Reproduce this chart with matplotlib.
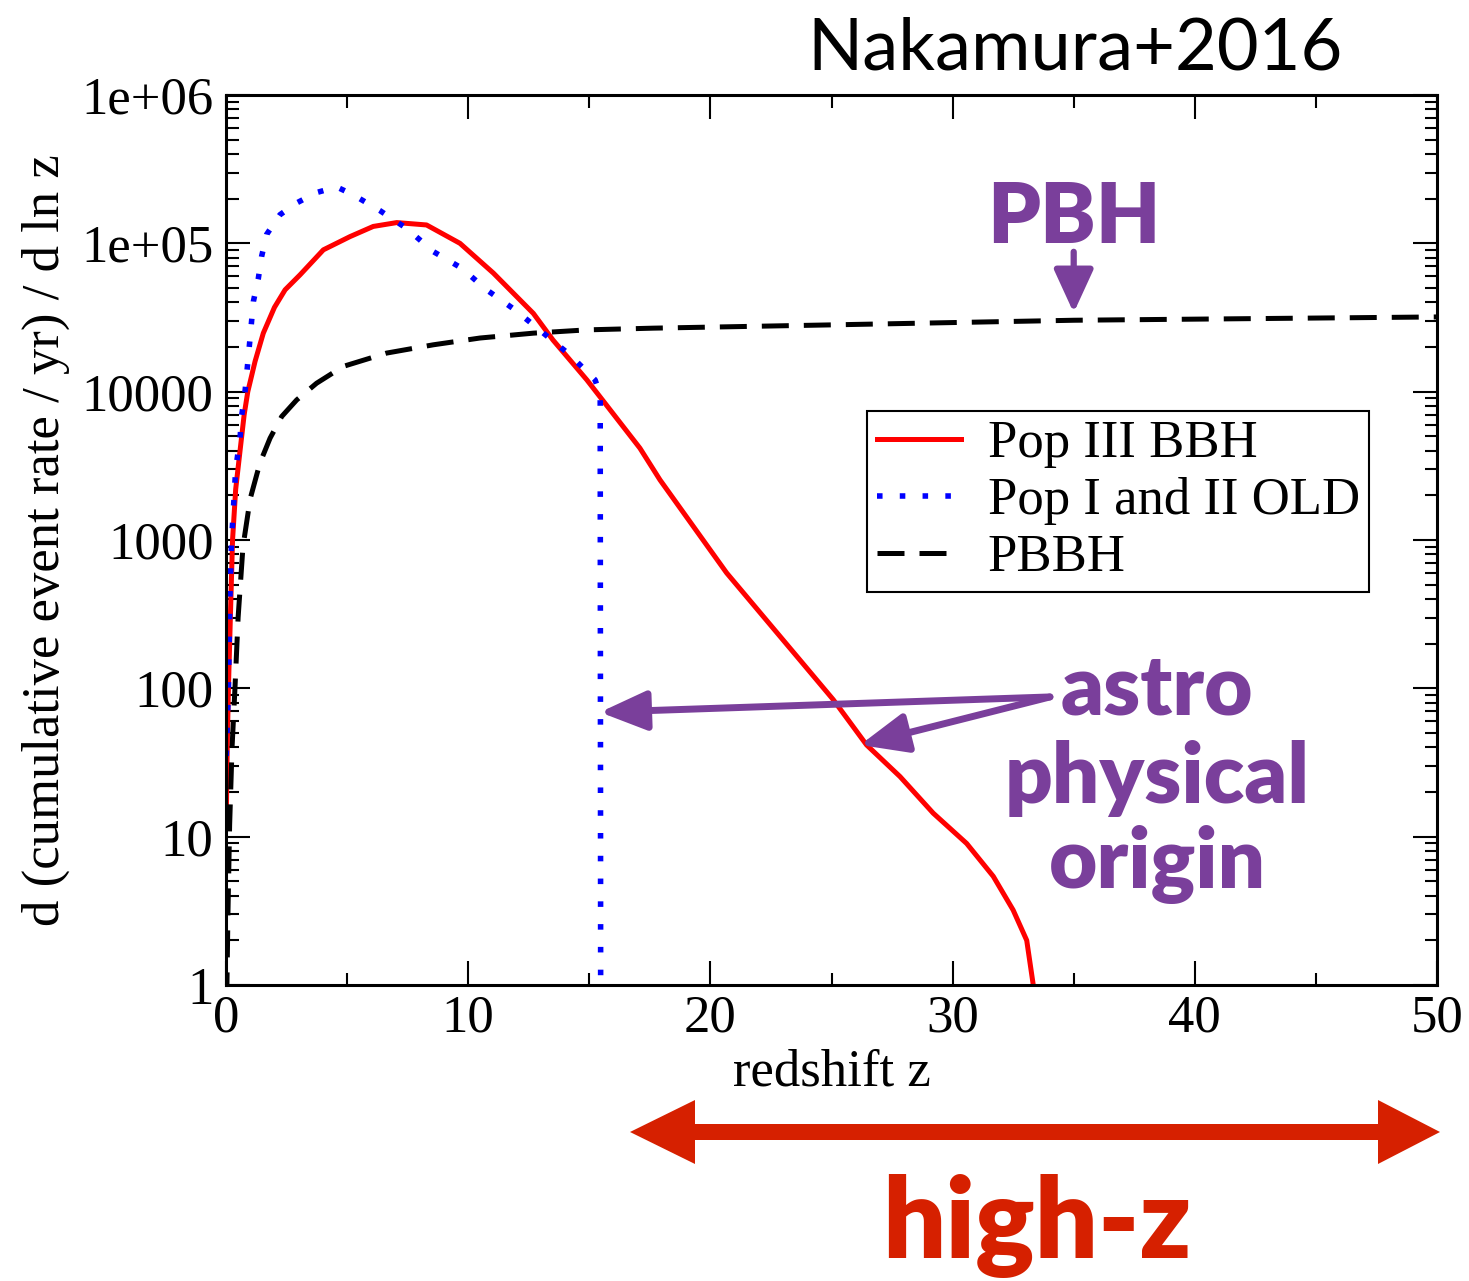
import numpy as np
import matplotlib.pyplot as plt
from matplotlib.patches import Polygon
from matplotlib.ticker import FixedLocator, LogLocator, FuncFormatter, NullFormatter

# Pop III BBH (solid red)
z_pop3 = [0.01, 0.05, 0.1, 0.18, 0.27, 0.4, 0.58, 0.75, 0.9, 1.2, 1.54, 2.0,
          2.44, 3.06, 4.02, 5.12, 6.08, 7.05, 8.28, 9.66, 11.04, 12.69, 13.5,
          14.9, 17.09, 17.92, 20.67, 23.7, 25.07, 26.45, 27.83, 29.2, 30.58,
          31.68, 32.5, 33.06, 33.33, 33.4]
r_pop3 = [12, 40, 100, 300, 1000, 2200, 4000, 7000, 10000, 16000, 24800,
          37000, 48600, 61400, 90400, 111000, 130000, 138000, 133000, 100000,
          63000, 33700, 22300, 12000, 4160, 2540, 600, 155, 84, 41.5, 25.4,
          14.4, 9.0, 5.4, 3.2, 2.0, 1.0, 0.5]

# Pop I and II OLD (dotted blue)
z_old = [0.01, 0.1, 0.16, 0.23, 0.4, 0.58, 0.65, 0.78, 0.96, 1.13, 1.33, 1.47,
         1.68, 2.23, 2.94, 3.74, 4.57, 5.26, 6.36, 7.46, 8.56, 9.73, 10.76,
         11.93, 13.03, 14.2, 15.24, 15.45, 15.47]
r_old = [35, 100, 400, 1000, 3000, 4860, 6950, 9800, 20000, 40500, 57300,
         81500, 115000, 156000, 188000, 220000, 240000, 212000, 166000,
         126000, 88000, 68000, 48600, 35600, 25400, 17700, 12000, 9500, 0.5]

# PBBH (dashed black)
z_pbbh = [0.03, 0.08, 0.15, 0.25, 0.37, 0.5, 0.7, 1.0, 1.4, 1.82, 2.3, 2.92,
          3.74, 4.84, 6.63, 8.56, 10.49, 12.69, 14.9, 17.64, 25.0, 35.0, 50.0]
r_pbbh = [0.8, 3, 12, 40, 100, 300, 900, 1900, 3300, 4860, 6800, 8800, 11400,
          14800, 18200, 20700, 23000, 24800, 26100, 26800, 28200, 30300, 31900]

x_major = [0, 10, 20, 30, 40, 50]
x_minor = [5, 15, 25, 35, 45]
y_labels = {1: '1', 10: '10', 100: '100', 1000: '1000', 1e4: '10000',
            1e5: '1e+05', 1e6: '1e+06'}

purple = '#7a3f9b'
red_hz = '#d62000'
serif = 'Liberation Serif'
sans = 'Lato'

W, H = 1469, 1281
fig = plt.figure(figsize=(W / 100, H / 100), dpi=100)
ax = fig.add_axes([226 / W, 1 - 985 / H, 1211 / W, 890 / H])

ax.plot(z_pop3, r_pop3, color='red', lw=3.6, label='Pop III BBH')
ax.plot(z_old, r_old, color='blue', lw=4, ls=(0, (1, 3.1)),
        label='Pop I and II OLD')
ax.plot(z_pbbh, r_pbbh, color='black', lw=3.6, ls=(0, (5.4, 3)),
        label='PBBH')

ax.set_yscale('log')
ax.set_xlim(0, 50)
ax.set_ylim(1, 1e6)

ax.xaxis.set_major_locator(FixedLocator(x_major))
ax.xaxis.set_minor_locator(FixedLocator(x_minor))
ax.yaxis.set_major_locator(LogLocator(base=10, numticks=10))
ax.yaxis.set_minor_locator(LogLocator(base=10, subs=np.arange(2, 10), numticks=20))
ax.yaxis.set_major_formatter(FuncFormatter(lambda v, p: y_labels.get(round(v), '')))
ax.yaxis.set_minor_formatter(NullFormatter())

ax.tick_params(which='both', direction='in', top=True, right=True, width=1.5)
ax.tick_params(which='major', length=17)
ax.tick_params(which='minor', length=9)
ax.tick_params(axis='y', pad=9)
ax.tick_params(axis='x', pad=7)
for lab in ax.get_xticklabels() + ax.get_yticklabels():
    lab.set_fontfamily(serif)
    lab.set_fontsize(38)
for s in ax.spines.values():
    s.set_linewidth(2.2)

ax.set_xlabel('redshift z', fontsize=38, family=serif, labelpad=4)
ax.set_ylabel('d (cumulative event rate / yr) / d ln z', fontsize=38,
              family=serif, labelpad=8)

leg = ax.legend(loc='upper right', bbox_to_anchor=(0.944, 0.645),
                prop={'family': serif, 'size': 38}, fancybox=False,
                framealpha=1, edgecolor='black', handlelength=1.6,
                handletextpad=0.5, borderpad=0.18, labelspacing=0.17,
                borderaxespad=0)
leg.get_frame().set_linewidth(1.5)

# annotations
ax.text(35, 10**5.17, 'PBH', color=purple, fontsize=60, family=sans,
        weight='heavy', ha='center', va='center')
ax.annotate('', xy=(35, 34000), xytext=(35, 10**4.943),
            arrowprops=dict(arrowstyle='-|>,head_length=1.2,head_width=0.55',
                            mutation_scale=22, lw=4.5, color=purple,
                            shrinkA=0, shrinkB=0))
for tip in [(15.44, 69), (26.18, 41.5)]:
    ax.annotate('', xy=tip, xytext=(34.02, 87.5),
                arrowprops=dict(arrowstyle='-|>,head_length=1.3,head_width=0.55',
                                mutation_scale=22, lw=5, color=purple,
                                shrinkA=0, shrinkB=0))
for word, base in [('astro', 715), ('physical', 803), ('origin', 888)]:
    fig.text(1157 / W, 1 - base / H, word, color=purple, fontsize=60,
             family=sans, weight='heavy', ha='center', va='baseline')

fig.text(1075 / W, 1 - 70 / H, 'Nakamura+2016', fontsize=52, family=sans,
         ha='center', va='baseline')

# double-headed high-z arrow
pts = [(630, 1132), (695, 1100), (695, 1124), (1378, 1124), (1378, 1100),
       (1440, 1132), (1378, 1164), (1378, 1140), (695, 1140), (695, 1164)]
fig.patches.append(Polygon([(px / W, 1 - py / H) for px, py in pts],
                           closed=True, transform=fig.transFigure,
                           color=red_hz, lw=0))
fig.text(1037 / W, 1 - 1258 / H, 'high-z', color=red_hz, fontsize=80,
         family=sans, weight='heavy', ha='center', va='baseline')

fig.savefig('out.png', dpi=100)
